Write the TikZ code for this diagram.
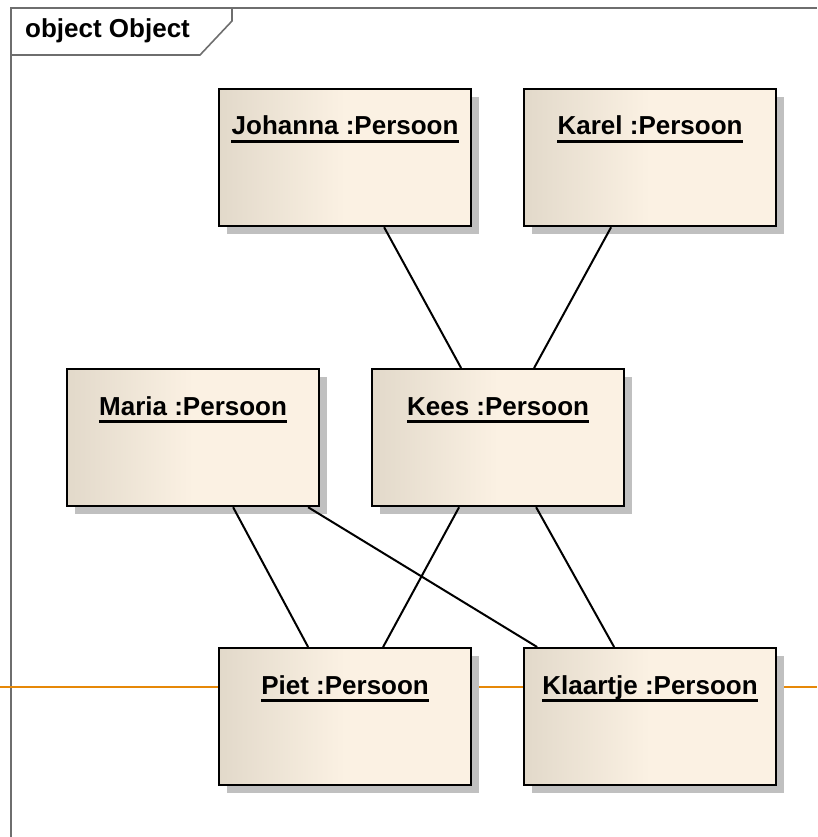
\documentclass[tikz,border=0pt]{standalone}
\usepackage{fontspec}
\setmainfont{Liberation Sans}
\usepackage{xcolor}
\usetikzlibrary{shadows}
\definecolor{objleft}{RGB}{226,217,202}
\definecolor{objright}{RGB}{251,241,227}
\pgfdeclarehorizontalshading{persoonfill}{100bp}{color(0bp)=(objleft); color(25bp)=(objleft); color(50bp)=(objright); color(100bp)=(objright)}
\begin{document}
\begin{tikzpicture}[x=1pt,y=-1pt,
  objbox/.style={draw=black,line width=2.2pt,shade,shading=persoonfill,anchor=north west,
    minimum width=252pt,minimum height=137pt,inner sep=0pt,
    drop shadow={shadow xshift=8pt,shadow yshift=-8pt,fill=objshadow,opacity=1}},
  objname/.style={anchor=base,inner sep=0pt,font=\fontsize{26}{30}\selectfont\bfseries},
  link/.style={line width=2pt}]
  \definecolor{objshadow}{RGB}{192,192,192}
  \definecolor{framegrey}{RGB}{110,110,110}
  \definecolor{markline}{RGB}{230,136,8}
  \useasboundingbox (0,0) rectangle (817,837);
  \draw[framegrey,line width=1.6pt] (11,837) -- (11,8) -- (817,8);
  \draw[framegrey,line width=1.6pt] (11,55) -- (200,55) -- (232,21) -- (232,8);
  \node[anchor=base west,inner sep=0pt,font=\fontsize{26}{30}\selectfont\bfseries] (frame) at (25,38) {object Object};
  \coordinate (markL) at (0,687);
  \coordinate (markR) at (817,687);
  \draw[markline,line width=2pt] (markL) -- (markR);
  \foreach \nm/\txt/\xx/\yy in {johanna/Johanna/218/88, karel/Karel/523/88,
      maria/Maria/66/368, kees/Kees/371/368, piet/Piet/218/647, klaartje/Klaartje/523/647}{%
    \node[objbox] (\nm) at (\xx,\yy) {};
    \node[objname] (\nm-name) at ([yshift=-47pt]\nm.north) {\txt{} :Persoon};
    \draw[line width=2.2pt] ([yshift=-6.5pt]\nm-name.base west) -- ([yshift=-6.5pt]\nm-name.base east);
  }
  \draw[link] ([xshift=39pt]johanna.south) -- ([xshift=-37pt]kees.north);
  \draw[link] ([xshift=-39pt]karel.south) -- ([xshift=36pt]kees.north);
  \draw[link] ([xshift=40pt]maria.south) -- ([xshift=-37pt]piet.north);
  \draw[link] ([xshift=115pt]maria.south) -- ([xshift=-113pt]klaartje.north);
  \draw[link] ([xshift=-39pt]kees.south) -- ([xshift=38pt]piet.north);
  \draw[link] ([xshift=38pt]kees.south) -- ([xshift=-36pt]klaartje.north);
\end{tikzpicture}
\end{document}
